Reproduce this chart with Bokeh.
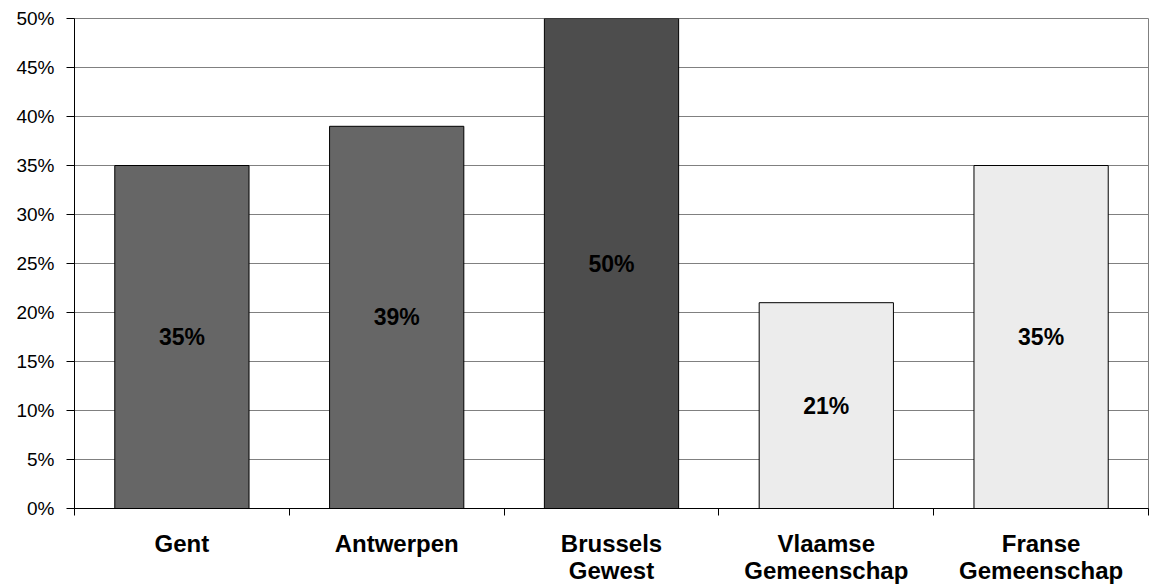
from bokeh.plotting import figure
from bokeh.models import ColumnDataSource, FixedTicker, NumeralTickFormatter, Range1d
from bokeh.core.properties import value
from bokeh.embed import file_html
from bokeh.resources import INLINE

categories = ["Gent", "Antwerpen", "Brussels\nGewest", "Vlaamse\nGemeenschap", "Franse\nGemeenschap"]
values = [0.35, 0.39, 0.50, 0.21, 0.35]
labels = ["35%", "39%", "50%", "21%", "35%"]
colors = ["#666666", "#666666", "#4d4d4d", "#ececec", "#ececec"]
y_ticks = [0, 0.05, 0.10, 0.15, 0.20, 0.25, 0.30, 0.35, 0.40, 0.45, 0.50]

xs = [i + 0.5 for i in range(len(categories))]
src = ColumnDataSource(dict(
    x=xs, top=values, mid=[v / 2 for v in values], label=labels, color=colors,
))

p = figure(width=1149, height=586, output_backend="svg", toolbar_location=None,
           x_range=Range1d(0, len(categories)), y_range=Range1d(0, 0.5),
           min_border_left=74, min_border_right=1, min_border_top=18, min_border_bottom=78)
p.outline_line_color = "#808080"
p.background_fill_color = "white"
p.border_fill_color = "white"

p.vbar(x="x", top="top", bottom=0, width=0.625, fill_color="color",
       line_color="black", line_width=1, source=src)
p.text(x="x", y="mid", text="label", source=src, text_align="center",
       text_baseline="middle", text_font=value("Liberation Sans"),
       text_font_style="bold", text_font_size="23px", text_color="black")

# y axis
p.yaxis.ticker = FixedTicker(ticks=y_ticks)
p.yaxis.formatter = NumeralTickFormatter(format="0%")
p.yaxis.axis_line_color = "black"
p.yaxis.major_tick_line_color = "black"
p.yaxis.major_tick_in = 0
p.yaxis.major_tick_out = 8
p.yaxis.minor_tick_line_color = None
p.yaxis.major_label_standoff = 12
p.yaxis.major_label_text_font = "Liberation Sans"
p.yaxis.major_label_text_font_size = "19px"
p.yaxis.major_label_text_color = "black"

# x axis
p.xaxis.ticker = FixedTicker(ticks=xs, minor_ticks=list(range(len(categories) + 1)))
p.xaxis.major_label_overrides = {x: c for x, c in zip(xs, categories)}
p.xaxis.major_tick_line_color = None
p.xaxis.major_tick_in = 0
p.xaxis.major_tick_out = 0
p.xaxis.minor_tick_line_color = "black"
p.xaxis.minor_tick_in = 0
p.xaxis.minor_tick_out = 7
p.xaxis.axis_line_color = "black"
p.xaxis.major_label_standoff = 14
p.xaxis.major_label_text_font = "Liberation Sans"
p.xaxis.major_label_text_font_style = "bold"
p.xaxis.major_label_text_font_size = "24px"
p.xaxis.major_label_text_line_height = 1.0
p.xaxis.major_label_text_color = "black"

p.xgrid.grid_line_color = None
p.ygrid.ticker = FixedTicker(ticks=y_ticks)
p.ygrid.grid_line_color = "#808080"
p.ygrid.grid_line_width = 1

open("out.html", "w").write(file_html(p, INLINE))
